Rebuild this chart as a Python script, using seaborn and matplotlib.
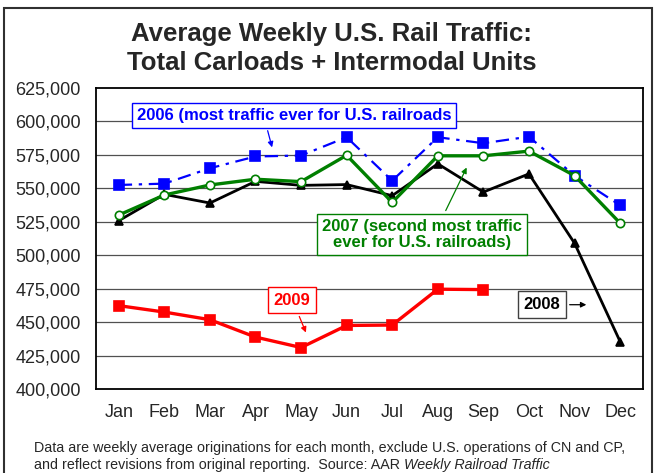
import matplotlib
matplotlib.use("Agg")
import matplotlib.pyplot as plt
import matplotlib.patches as mpatches
import matplotlib.ticker as mticker
import pandas as pd
import seaborn as sns

months = ["Jan", "Feb", "Mar", "Apr", "May", "Jun", "Jul", "Aug", "Sep", "Oct", "Nov", "Dec"]
traffic_2006 = [552500, 553500, 565000, 573800, 574500, 588200, 555700, 588200, 583700, 588600, 559500, 537300]
traffic_2007 = [530000, 545000, 552500, 556800, 555000, 574700, 539500, 574300, 574300, 577800, 559500, 524000]
traffic_2008 = [525800, 545500, 539000, 555200, 552200, 552800, 544500, 568300, 547200, 560800, 509000, 435500]
traffic_2009 = [462300, 457500, 451800, 438800, 431000, 447500, 447800, 474600, 474300]
y_ticks = list(range(400000, 625001, 25000))

sns.set_theme(style="white")
plt.rcParams["font.family"] = ["Liberation Sans", "DejaVu Sans"]

df = pd.concat([
    pd.DataFrame({"month": months, "value": traffic_2006, "year": "2006"}),
    pd.DataFrame({"month": months, "value": traffic_2007, "year": "2007"}),
    pd.DataFrame({"month": months, "value": traffic_2008, "year": "2008"}),
    pd.DataFrame({"month": months[:len(traffic_2009)], "value": traffic_2009, "year": "2009"}),
])
df["x"] = df["month"].map({m: i for i, m in enumerate(months)})

fig = plt.figure(figsize=(6.56, 4.73), dpi=100)
ax = fig.add_axes([0.1463, 0.1776, 0.8337, 0.6364])

for y in y_ticks[1:-1]:
    ax.axhline(y, color="#505050", lw=0.9, zorder=0)

styles = {
    "2006": dict(color="#0000ff", marker="s", ls=(0, (6, 3, 1.5, 3)), lw=1.6, ms=6.5, mfc="#0000ff", mec="#0000ff"),
    "2007": dict(color="#007f00", marker="o", ls="-", lw=2.4, ms=6, mfc="white", mec="#007f00"),
    "2008": dict(color="black", marker="^", ls="-", lw=2.0, ms=6, mfc="black", mec="black"),
    "2009": dict(color="#ff0000", marker="s", ls="-", lw=2.4, ms=6.5, mfc="#ff0000", mec="#ff0000"),
}
for year in ["2006", "2008", "2007", "2009"]:
    st = styles[year]
    sub = df[df["year"] == year]
    sns.lineplot(data=sub, x="x", y="value", ax=ax, color=st["color"], lw=st["lw"],
                 linestyle=st["ls"], marker=st["marker"], markersize=st["ms"],
                 markerfacecolor=st["mfc"], markeredgecolor=st["mec"], markeredgewidth=1.2,
                 legend=False)

ax.set_xlim(-0.5, 11.5)
ax.set_ylim(400000, 625000)
ax.set_yticks(y_ticks)
ax.yaxis.set_major_formatter(mticker.FuncFormatter(lambda v, p: f"{int(v):,}"))
ax.set_xticks(range(12))
ax.set_xticklabels(months)
ax.set_xticks([i + 0.5 for i in range(11)], minor=True)
ax.tick_params(axis="x", which="major", length=0, labelsize=13, pad=11)
ax.tick_params(axis="x", which="minor", length=5, direction="in", width=1, color="black")
ax.tick_params(axis="y", length=0, labelsize=13, pad=11)
ax.set_xlabel("")
ax.set_ylabel("")
for s in ax.spines.values():
    s.set_color("black")
    s.set_linewidth(1.3)

fig.text(0.505, 0.928, "Average Weekly U.S. Rail Traffic:", ha="center", va="center",
         fontsize=18.5, fontweight="bold")
fig.text(0.505, 0.866, "Total Carloads + Intermodal Units", ha="center", va="center",
         fontsize=18.5, fontweight="bold")


def arrow(color, relpos):
    return dict(arrowstyle="-|>", lw=0.9, mutation_scale=8, color=color, relpos=relpos)


ax.annotate("2006 (most traffic ever for U.S. railroads", xy=(3.38, 578600),
            xytext=(3.84, 604800), ha="center", va="center", fontsize=12, fontweight="bold",
            color="#0000ff",
            bbox=dict(boxstyle="square,pad=0.3", fc="white", ec="#0000ff", lw=1),
            arrowprops=arrow("#0000ff", (0.41, 0)))
ax.annotate("2007 (second most traffic\never for U.S. railroads)", xy=(7.66, 567400),
            xytext=(6.65, 515500), ha="center", va="center", fontsize=12, fontweight="bold",
            color="#007f00", linespacing=1.15,
            bbox=dict(boxstyle="square,pad=0.3", fc="white", ec="#007f00", lw=1),
            arrowprops=arrow("#007f00", (0.6, 1)))
ax.annotate("2009", xy=(4.13, 440300), xytext=(3.80, 466500), ha="center", va="center",
            fontsize=12, fontweight="bold", color="#ff0000",
            bbox=dict(boxstyle="square,pad=0.35", fc="white", ec="#ff0000", lw=1),
            arrowprops=arrow("#ff0000", (0.6, 0)))
ax.annotate("2008", xy=(10.32, 463000), xytext=(9.29, 463000), ha="center", va="center",
            fontsize=12, fontweight="bold", color="black",
            bbox=dict(boxstyle="square,pad=0.35", fc="white", ec="#404040", lw=1),
            arrowprops=arrow("black", (1, 0.5)))

fig.text(0.052, 0.052, "Data are weekly average originations for each month, exclude U.S. operations of CN and CP,",
         fontsize=10.3, ha="left", va="center")
src = fig.text(0.052, 0.017, "and reflect revisions from original reporting.  Source: AAR ", fontsize=10.3,
               ha="left", va="center")
ax.annotate("Weekly Railroad Traffic", xy=(1, 0), xycoords=src, va="bottom", ha="left",
            fontsize=10.3, style="italic", annotation_clip=False)

fig.patches.append(mpatches.Rectangle((0.006, -0.01), 0.988, 0.993, transform=fig.transFigure,
                                      fill=False, ec="#303030", lw=1.5))

fig.savefig("out.png", dpi=100)
